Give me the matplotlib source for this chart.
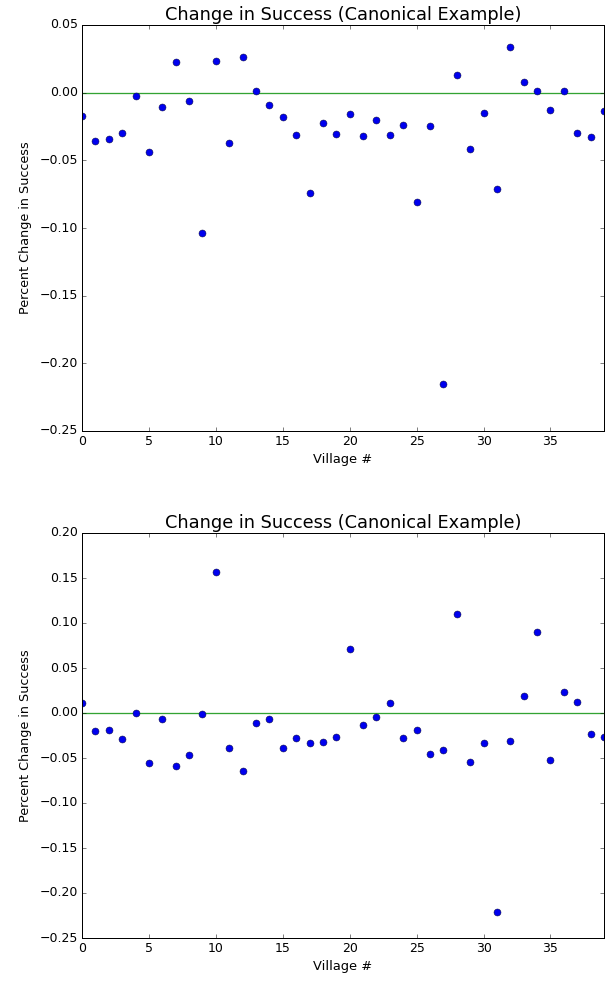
import matplotlib
matplotlib.use("Agg")
import matplotlib.pyplot as plt
import numpy as np

plt.style.use('classic')

villages = list(range(40))
change_top = [-0.0172, -0.0356, -0.0341, -0.0300, -0.0027, -0.0435, -0.0105, 0.0224, -0.0064, -0.1037,
              0.0236, -0.0369, 0.0261, 0.0010, -0.0093, -0.0177, -0.0312, -0.0745, -0.0221, -0.0305,
              -0.0160, -0.0320, -0.0201, -0.0312, -0.0241, -0.0811, -0.0246, -0.2156, 0.0133, -0.0415,
              -0.0147, -0.0715, 0.0339, 0.0077, 0.0010, -0.0130, 0.0010, -0.0300, -0.0324, -0.0135]
change_bottom = [0.0107, -0.0199, -0.0191, -0.0291, -0.0005, -0.0556, -0.0070, -0.0589, -0.0464, -0.0007,
                 0.1570, -0.0390, -0.0644, -0.0107, -0.0063, -0.0390, -0.0273, -0.0328, -0.0317, -0.0262,
                 0.0711, -0.0136, -0.0044, 0.0110, -0.0280, -0.0191, -0.0456, -0.0412, 0.1105, -0.0545,
                 -0.0328, -0.2206, -0.0309, 0.0185, 0.0903, -0.0519, 0.0232, 0.0118, -0.0235, -0.0272]

W, H, DPI = 607, 981, 72
fig = plt.figure(figsize=(W / DPI, H / DPI), dpi=DPI, facecolor='white')

def ax_rect(l, t, r, b):
    return [l / W, 1 - b / H, (r - l) / W, (b - t) / H]

panels = [
    (ax_rect(82, 25, 604, 431), change_top, (-0.25, 0.05)),
    (ax_rect(82, 533, 604, 938), change_bottom, (-0.25, 0.20)),
]

for rect, vals, ylim in panels:
    ax = fig.add_axes(rect)
    ax.set_facecolor('white')
    ax.axhline(0, color='#33a333', lw=1.3)
    ax.plot(villages, vals, 'o', color='#0000ee', markersize=7,
            markeredgecolor='#101040', markeredgewidth=0.5)
    ax.set_xlim(0, 39)
    ax.set_ylim(*ylim)
    ax.tick_params(labelsize=12.5)
    ax.set_title("Change in Success (Canonical Example)", fontsize=17.8)
    ax.set_xlabel("Village #", fontsize=13)
    ax.set_ylabel("Percent Change in Success", fontsize=12.7, labelpad=7)

fig.savefig("out.png", dpi=DPI, facecolor='white')
